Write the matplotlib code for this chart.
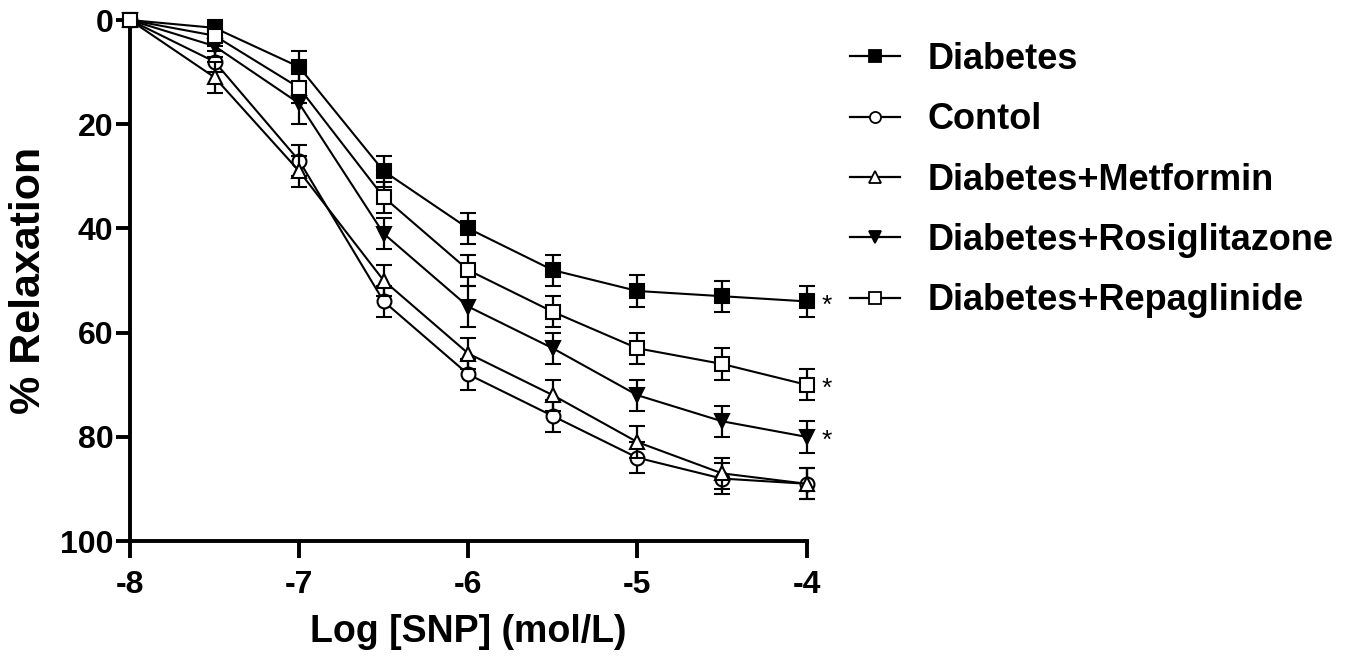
import matplotlib
matplotlib.use("Agg")
import matplotlib.pyplot as plt
from matplotlib.lines import Line2D

# ---- data ----
log_snp = [-8, -7.5, -7, -6.5, -6, -5.5, -5, -4.5, -4]
series_names = ["Diabetes", "Contol", "Diabetes+Metformin",
                "Diabetes+Rosiglitazone", "Diabetes+Repaglinide"]
diabetes = [0, 1.5, 9, 29, 40, 48, 52, 53, 54]
control = [0, 8, 27, 54, 68, 76, 84, 88, 89]
metformin = [0, 11, 29, 50, 64, 72, 81, 87, 89]
rosiglitazone = [0, 5, 16, 41, 55, 63, 72, 77, 80]
repaglinide = [0, 3, 13, 34, 48, 56, 63, 66, 70]
diabetes_err = [0, 1.5, 3, 3, 3, 3, 3, 3, 3]
control_err = [0, 2, 3, 3, 3, 3, 3, 3, 3]
metformin_err = [0, 3, 3, 3, 3, 3, 3, 3, 3]
rosiglitazone_err = [0, 2, 4, 3, 4, 3, 3, 3, 3]
repaglinide_err = [1, 2, 3, 3, 3, 3, 3, 3, 3]
significant = [True, False, False, True, True]
x_ticks = [-8, -7, -6, -5, -4]
y_ticks = [0, 20, 40, 60, 80, 100]

values = [diabetes, control, metformin, rosiglitazone, repaglinide]
errors = [diabetes_err, control_err, metformin_err, rosiglitazone_err, repaglinide_err]
styles = [("s", "black"), ("o", "white"), ("^", "white"), ("v", "black"), ("s", "white")]
draw_order = [2, 1, 3, 0, 4]

fam = ["Liberation Sans", "DejaVu Sans"]

fig = plt.figure(figsize=(13.53, 6.68), dpi=100)
ax = fig.add_axes([0.0961, 0.19, 0.5, 0.78])

for i in draw_order:
    m, fc = styles[i]
    ax.errorbar(log_snp, values[i], yerr=errors[i], fmt="-", marker=m,
                color="black", mfc=fc, mec="black", mew=1.5, ms=10,
                lw=1.5, elinewidth=1.6, capsize=6, capthick=1.6,
                clip_on=False, zorder=3 + i)
    if significant[i]:
        ax.annotate("*", (log_snp[-1], values[i][-1]), xytext=(11, -3),
                    textcoords="offset points", ha="left", va="center",
                    fontsize=19, family=fam)

ax.set_xlim(-8, -4)
ax.set_ylim(100, 0)
ax.set_xticks(x_ticks)
ax.set_yticks(y_ticks)
ax.set_xticklabels([str(t) for t in x_ticks], fontsize=23, fontweight="bold", family=fam)
ax.set_yticklabels([str(t) for t in y_ticks], fontsize=23, fontweight="bold", family=fam)
for s in ["top", "right"]:
    ax.spines[s].set_visible(False)
for s in ["left", "bottom"]:
    ax.spines[s].set_linewidth(2.8)
ax.tick_params(axis="y", width=2.8, length=10, pad=2)
ax.tick_params(axis="x", width=2.8, length=12, pad=9)

ax.set_xlabel("Log [SNP] (mol/L)", fontsize=27, fontweight="bold", family=fam, labelpad=10)
ax.set_ylabel("% Relaxation", fontsize=31, fontweight="bold", family=fam, labelpad=8)

handles = []
for i in range(5):
    m, fc = styles[i]
    handles.append(Line2D([0], [0], color="black", lw=1.6, marker=m, mfc=fc,
                          mec="black", mew=1.3, ms=8))
leg = fig.legend(handles, series_names, loc="upper left",
                 bbox_to_anchor=(0.628, 0.937), frameon=False,
                 prop={"family": fam, "weight": "bold", "size": 26},
                 handlelength=1.4, handletextpad=0.75, labelspacing=0.7,
                 borderaxespad=0, borderpad=0)

fig.savefig("out.png", dpi=100)
